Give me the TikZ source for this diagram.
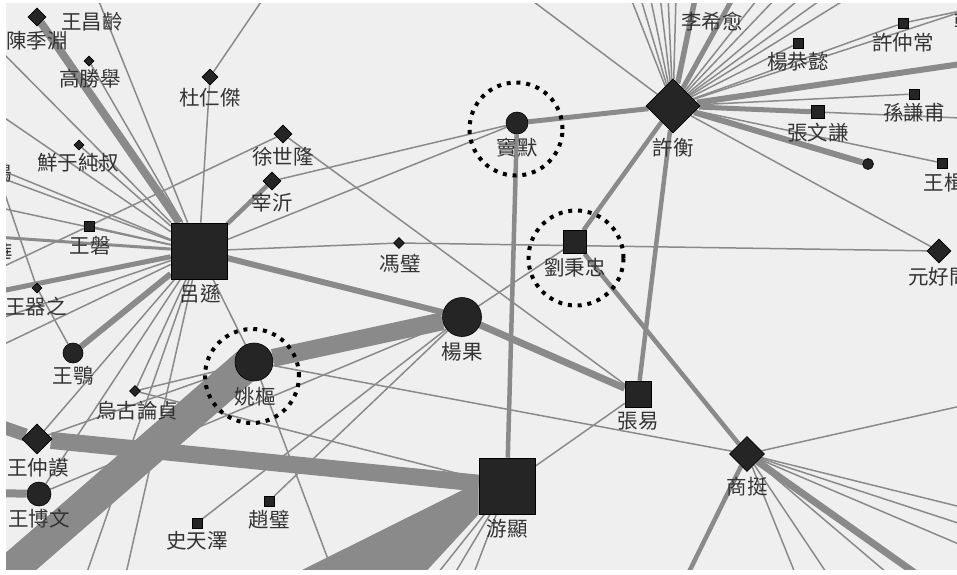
\documentclass[tikz,border=0pt]{standalone}
\usepackage{fontspec}
\newfontfamily\cjk{Noto Sans CJK TC}
\usetikzlibrary{shapes.geometric}
\pgfdeclarelayer{bglayer}
\pgfdeclarelayer{edges}
\pgfsetlayers{bglayer,edges,main}
\definecolor{bgc}{HTML}{EFEFEF}
\definecolor{edgec}{HTML}{8A8A8A}
\definecolor{nodec}{HTML}{252525}
\definecolor{txtc}{HTML}{333333}
\tikzset{
 sq/.style={rectangle, fill=nodec, draw=black, line width=0.6pt, inner sep=0pt, minimum size=#1},
 dia/.style={diamond, aspect=1, fill=nodec, draw=black, line width=0.6pt, inner sep=0pt, minimum size=#1},
 ci/.style={circle, fill=nodec, draw=black, line width=0.6pt, inner sep=0pt, minimum size=#1},
 lab/.style={font=\cjk\fontsize{20.5}{21}\selectfont, text=txtc, inner sep=0pt},
 ringc/.style={circle, draw=black, line width=4pt, dash pattern=on 4pt off 5.8pt, inner sep=0pt, minimum size=#1},
 edg/.style={draw=edgec, line width=1.5pt},
 edgw/.style={draw=edgec, line width=#1},
}
\begin{document}
\begin{tikzpicture}[x=1pt,y=-1pt]
\useasboundingbox (0,0) rectangle (957,574);
\begin{pgfonlayer}{bglayer}
\fill[bgc] (0,0) rectangle (957,574);
\end{pgfonlayer}

% ---------- nodes ----------
\node[dia=18pt] (chen) at (37,17) {};
\node[lab] (t-chen) at (37,41) {陳季淵};
\coordinate (wcl) at (96,-6);
\node[lab] (t-wcl) at (92,22) {王昌齡};
\node[dia=10pt] (gao) at (89,61) {};
\node[lab] (t-gao) at (90,79) {高勝舉};
\node[dia=16pt] (du) at (210,77) {};
\node[lab] (t-du) at (210,98) {杜仁傑};
\node[dia=18pt] (xsl) at (283,134) {};
\node[lab] (t-xsl) at (283,157) {徐世隆};
\node[dia=18pt] (zai) at (272,181) {};
\node[lab] (t-zai) at (272,203) {宰沂};
\node[dia=10pt] (xian) at (79,145) {};
\node[lab] (t-xian) at (78,163) {鮮于純叔};
\node[sq=10pt] (wp) at (89,226) {};
\node[lab] (t-wp) at (90,246) {王磐};
\node[sq=56pt] (lx) at (199,251) {};
\node[lab] (t-lx) at (200,294) {呂遜};
\node[dia=10pt] (wqz) at (37,288) {};
\node[lab] (t-wqz) at (36,307) {王器之};
\node[ci=20pt] (we) at (73,353) {};
\node[lab] (t-we) at (73,376) {王鶚};
\node[ci=38pt] (ys) at (254,362) {};
\node[lab] (t-ys) at (255,397) {姚樞};
\node[ci=39pt] (yg) at (462,317) {};
\node[lab] (t-yg) at (462,352) {楊果};
\node[ci=22pt] (dm) at (517,123) {};
\node[lab] (t-dm) at (517,148) {竇默};
\node[sq=23pt] (lbz) at (575,242) {};
\node[lab] (t-lbz) at (575,268) {劉秉忠};
\node[dia=11pt] (fb) at (399,243) {};
\node[lab] (t-fb) at (400,264) {馮璧};
\node[dia=54pt] (xh) at (673,106) {};
\node[lab] (t-xh) at (673,148) {許衡};
\coordinate (lxy) at (696,-6);
\node[lab] (t-lxy) at (712,22) {李希愈};
\node[sq=10pt] (ygy) at (798,43) {};
\node[lab] (t-ygy) at (798,62) {楊恭懿};
\node[sq=10pt] (xzc) at (903,23) {};
\node[lab] (t-xzc) at (903,43) {許仲常};
\coordinate (han) at (975,8);
\node[lab] (t-han) at (965,22) {韓};
\node[sq=10pt] (sqf) at (914,94) {};
\node[lab] (t-sqf) at (914,113) {孫謙甫};
\node[sq=13pt] (zwq) at (818,112) {};
\node[lab] (t-zwq) at (818,133) {張文謙};
\node[ci=11pt] (dot) at (868,164) {};
\node[sq=10pt] (wj) at (942,163) {};
\node[lab] (t-wj) at (944,183) {王楫};
\node[dia=24pt] (yhw) at (939,251) {};
\node[lab] (t-yhw) at (939,277) {元好問};
\node[sq=26pt] (zy) at (638,394) {};
\node[lab] (t-zy) at (638,421) {張易};
\node[dia=35pt] (st) at (747,454) {};
\node[lab] (t-st) at (747,487) {商挺};
\node[sq=56pt] (yx) at (507,486) {};
\node[lab] (t-yx) at (507,529) {游顯};
\node[dia=11pt] (wg) at (135,391) {};
\node[lab] (t-wg) at (137,411) {烏古論貞};
\node[dia=30pt] (wzm) at (37,439) {};
\node[lab] (t-wzm) at (38,468) {王仲謨};
\node[ci=24pt] (wbw) at (39,494) {};
\node[lab] (t-wbw) at (39,519) {王博文};
\node[sq=10pt] (stz) at (197,523) {};
\node[lab] (t-stz) at (197,541) {史天澤};
\node[sq=10pt] (zb) at (269,501) {};
\node[lab] (t-zb) at (269,520) {趙璧};
\node[lab] (t-fe) at (2,173) {鶚};
\node[lab] (t-fh) at (3,253) {華};

% dotted rings
\node[ringc=94pt] (r-ys) at (252,376) {};
\node[ringc=93pt] (r-dm) at (516,129) {};
\node[ringc=95pt] (r-lbz) at (576,258) {};

% free ends
\coordinate (L1) at (-4,46);
\coordinate (L2) at (-4,112);
\coordinate (LF1a) at (-4,168);
\coordinate (LF1b) at (-4,176);
\coordinate (L4) at (-4,207);
\coordinate (LF2) at (-4,237);
\coordinate (L3) at (-4,270);
\coordinate (L5) at (-4,292);
\coordinate (L6) at (-4,320);
\coordinate (L7) at (-4,348);
\coordinate (L8) at (-6,424);
\coordinate (L9) at (-6,493);
\coordinate (T1) at (265,-4);
\coordinate (T2) at (526,-4);
\coordinate (B1) at (335,578);
\coordinate (B2) at (85,578);
\coordinate (B3) at (125,578);
\coordinate (BL) at (-12,590);
\coordinate (W1) at (286,578);
\coordinate (W2) at (420,578);
\coordinate (B4) at (472,578);
\coordinate (B5) at (452,578);
\coordinate (B6) at (434,578);
\coordinate (B7) at (922,578);
\coordinate (B8) at (893,578);
\coordinate (B9) at (830,578);
\coordinate (B10) at (797,578);
\coordinate (B11) at (686,578);
\coordinate (R1) at (961,64);
\coordinate (R2) at (961,118);
\coordinate (R3) at (961,406);
\coordinate (R4) at (961,507);
\coordinate (R5) at (961,524);
\coordinate (R6) at (961,545);
\coordinate (TR1) at (961,12);
\coordinate (U1) at (630,-4);
\coordinate (U2) at (640,-4);
\coordinate (U3) at (650,-4);
\coordinate (U4) at (660,-4);
\coordinate (U5) at (668,-4);
\coordinate (U6) at (676,-4);
\coordinate (U7) at (734,-4);
\coordinate (U8) at (760,-4);
\coordinate (U9) at (778,-4);
\coordinate (U10) at (803,-4);
\coordinate (U11) at (826,-4);
\coordinate (U12) at (851,-4);

% ---------- edges ----------
\begin{pgfonlayer}{edges}
\begin{scope}
\clip (6,3) rectangle (957,570);
% top-left cluster
\draw[edgw=8pt] (chen) -- (lx);
\draw[edg] (wcl) -- (lx);
\draw[edg] (gao) -- (lx);
\draw[edg] (L1) -- (lx);
\draw[edg] (L2) -- (lx);
\draw[edg] (xian) -- (lx);
\draw[edg] (T1) -- (du);
\draw[edg] (du) -- (lx);
\draw[edg] (xsl) -- (wp);
\draw[edg] (wp) -- (L3);
\draw[edg] (xsl) -- (zy);
\draw[edgw=4.5pt] (zai) -- (lx);
\draw[edg] (zai) -- (dm);
\draw[edg] (lx) -- (dm);
\draw[edg] (lx) -- (fb);
\draw[edg] (fb) -- (yhw);
\draw[edgw=6pt] (lx) -- (yg);
\draw[edg] (lx) -- (ys);
\draw[edg] (ys) -- (B1);
\draw[edg] (LF1a) -- (lx);
\draw[edg] (LF1b) -- (lx);
\draw[edg] (L4) -- (lx);
\draw[edgw=3pt] (LF2) -- (lx);
\draw[edg] (wp) -- (lx);
\draw[edgw=5pt] (L5) -- (lx);
\draw[edg] (L6) -- (lx);
\draw[edg] (L7) -- (lx);
\draw[edg] (LF1a) -- (wqz);
\draw[edg] (wqz) -- (we);
\draw[edgw=6pt] (we) -- (lx);
\draw[edg] (lx) -- (wbw);
\draw[edg] (lx) -- (wg);
\draw[edg] (lx) -- (wzm);
\draw[edg] (lx) -- (B2);
\draw[edg] (lx) -- (B3);
% middle
\draw[edgw=18pt] (ys) -- (yg);
\draw[edgw=33pt] (BL) -- ([shift={(-6,2)}]ys.center);
\draw[edgw=17pt] (wzm) -- (yx);
\draw[edgw=13pt] (L8) -- (wzm);
\draw[edgw=8pt] (L9) -- (wbw);
\draw[edg] (wbw) -- (yg);
\draw[edg] (wzm) -- (ys);
\draw[edg] (wg) -- (yx);
\draw[edg] (wg) -- (ys);
\draw[edg] (stz) -- (yg);
\draw[edg] (zb) -- (yg);
\draw[edg] (ys) -- (st);
\fill[edgec] ([yshift=4]yx.west) -- (yx.south west) -- (W2) -- (W1) -- cycle;
\draw[edgw=4.5pt] (yx) -- (dm);
\draw[edg] (yx) -- (zy);
\draw[edg] (yx) -- (B4);
\draw[edg] (yx) -- (B5);
\draw[edg] (yx) -- (B6);
\draw[edgw=7pt] (yg) -- (zy);
\draw[edg] (yg) -- (lbz);
% right cluster
\draw[edgw=5pt] (dm) -- (xh);
\draw[edgw=4.5pt] (xh) -- (lbz);
\draw[edgw=4.5pt] (xh) -- (zy);
\draw[edgw=4.5pt] (lbz) -- (st);
\draw[edg] (xh) -- (yhw);
\draw[edg] (T2) -- (xh);
\foreach \u in {U1,U2,U3,U4,U5,U6,U8,U9,U10,U11,U12} {\draw[edg] (xh) -- (\u);}
\draw[edgw=5.5pt] (xh) -- (lxy);
\draw[edgw=5pt] (xh) -- (U7);
\draw[edg] (xh) -- (ygy);
\draw[edg] (xh) -- (xzc);
\draw[edg] (xzc) -- (han);
\draw[edg] (xh) -- (TR1);
\draw[edgw=6pt] (xh) -- (R1);
\draw[edg] (xh) -- (sqf);
\draw[edg] (xh) -- (R2);
\draw[edgw=5pt] (xh) -- (zwq);
\draw[edgw=6pt] (xh) -- (dot);
\draw[edg] (xh) -- (wj);
% shangting fan
\draw[edg] (st) -- (R3);
\draw[edg] (st) -- (R4);
\draw[edg] (st) -- (R5);
\draw[edg] (st) -- (R6);
\draw[edgw=7pt] (st) -- (B7);
\draw[edg] (st) -- (B8);
\draw[edg] (st) -- (B9);
\draw[edg] (st) -- (B10);
\draw[edgw=4.5pt] (st) -- (B11);
\end{scope}
\end{pgfonlayer}

% white margins
\fill[white] (0,0) rectangle (6,574);
\fill[white] (0,570) rectangle (957,574);
\fill[white] (0,0) rectangle (957,3);
\end{tikzpicture}
\end{document}
